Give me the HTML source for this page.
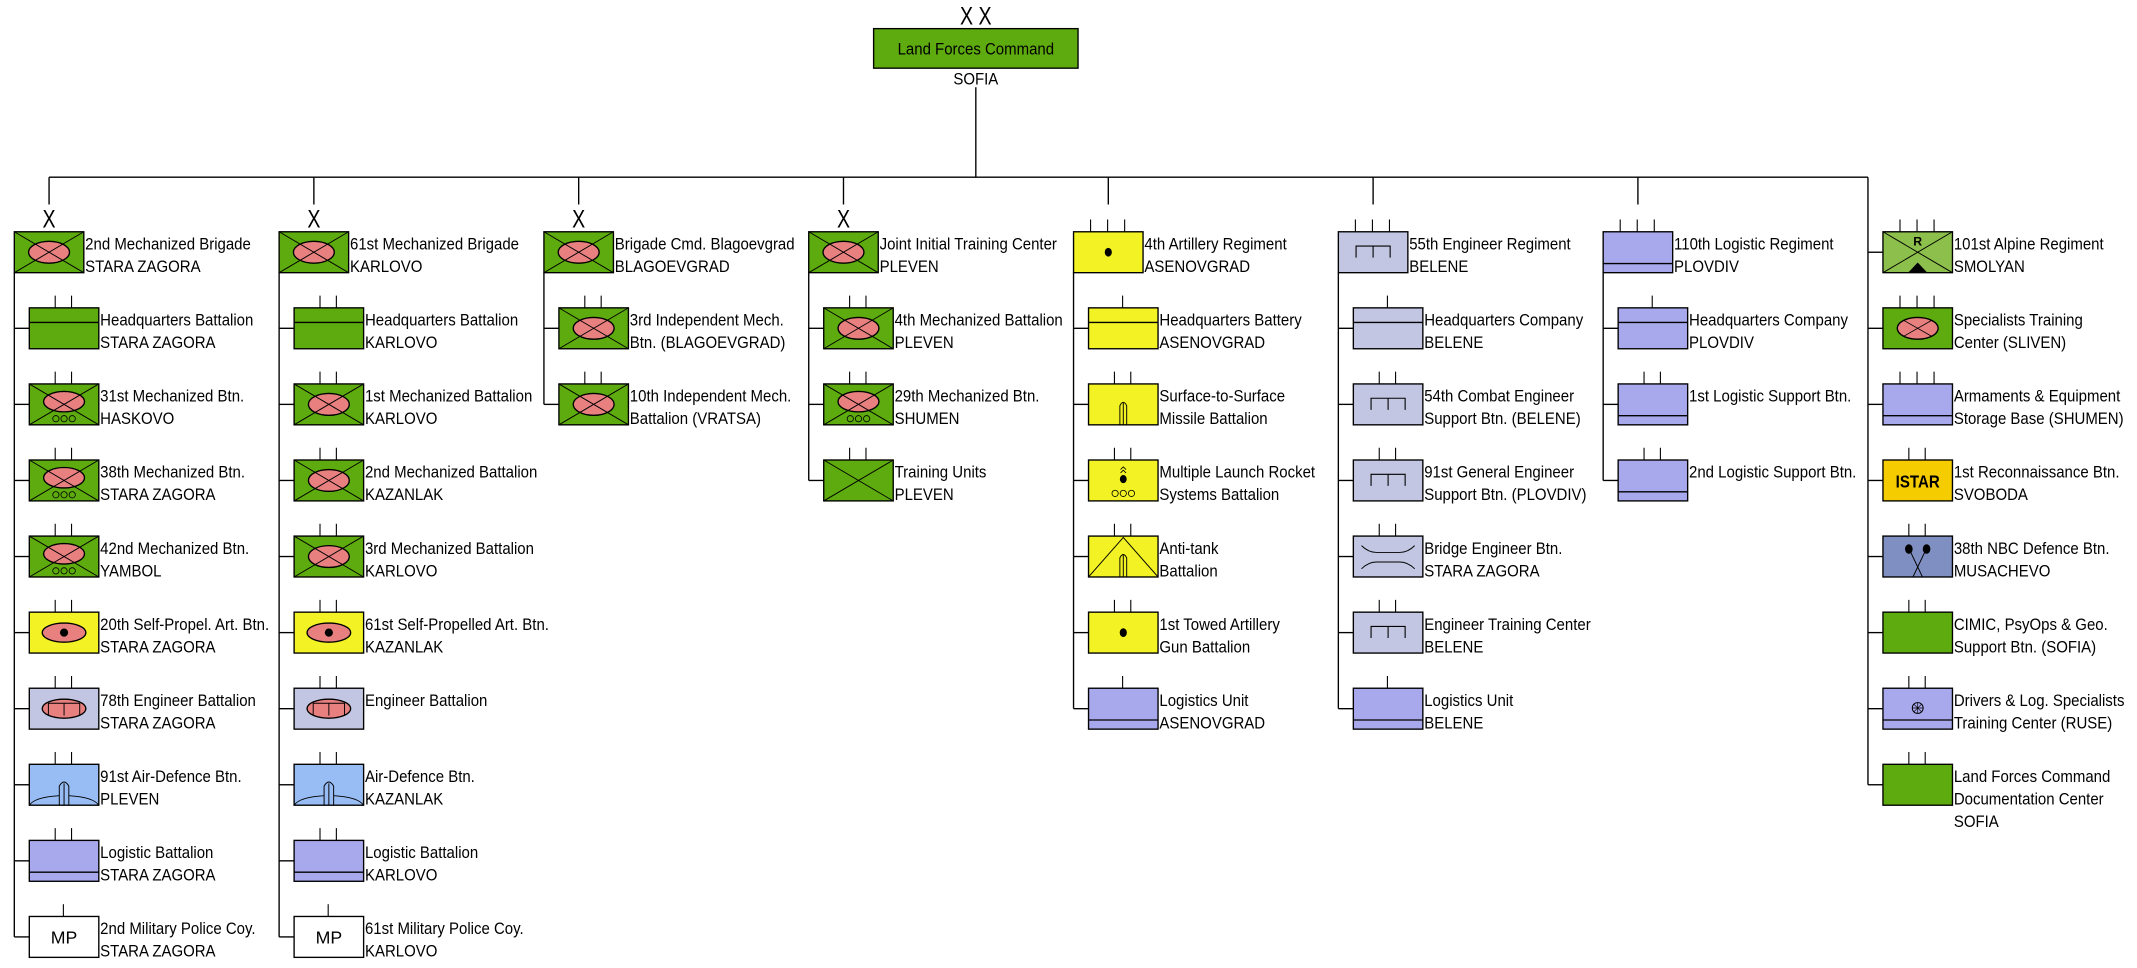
<!DOCTYPE html>
<html><head><meta charset="utf-8"><style>
html,body{margin:0;padding:0;background:#fff}
svg{display:block}
text{font-family:"Liberation Sans",Arial,sans-serif;font-size:12.5px;fill:#000}
text.xl{font-size:18px}
</style></head><body>
<svg width="2137" height="968" viewBox="0 0 1568 710" preserveAspectRatio="none" xmlns="http://www.w3.org/2000/svg">
<defs>
<g id="t1"><path d="M25,-9V0" stroke="#000" stroke-width="0.8"/></g>
<g id="t2"><path d="M19,-9V0M31,-9V0" stroke="#000" stroke-width="0.8"/></g>
<g id="t3"><path d="M12.5,-9V0M25,-9V0M37.5,-9V0" stroke="#000" stroke-width="0.8"/></g>
<g id="mech"><rect x="0" y="0" width="51" height="30" fill="#5dab0e" stroke="#000"/><ellipse cx="25.5" cy="15" rx="15" ry="8" fill="#e88080" stroke="#000"/><path d="M0,0L51,30M51,0L0,30" stroke="#000" stroke-width="0.7"/></g>
<g id="mechw"><rect x="0" y="0" width="51" height="30" fill="#5dab0e" stroke="#000"/><ellipse cx="25.5" cy="13" rx="15" ry="7.5" fill="#e88080" stroke="#000"/><path d="M0,0L51,30M51,0L0,30" stroke="#000" stroke-width="0.7"/><g fill="none" stroke="#000" stroke-width="0.6"><circle cx="19.5" cy="25.5" r="2.3"/><circle cx="25.5" cy="25.5" r="2.3"/><circle cx="31.5" cy="25.5" r="2.3"/></g></g>
<g id="trn"><rect x="0" y="0" width="51" height="30" fill="#5dab0e" stroke="#000"/><path d="M0,0L51,30M51,0L0,30" stroke="#000" stroke-width="0.7"/></g>
<g id="hq"><rect x="0" y="0" width="51" height="30" fill="#5dab0e" stroke="#000"/><path d="M0,10.7H51" stroke="#000"/></g>
<g id="green"><rect x="0" y="0" width="51" height="30" fill="#5dab0e" stroke="#000"/></g>
<g id="greenell"><rect x="0" y="0" width="51" height="30" fill="#5dab0e" stroke="#000"/><ellipse cx="25.5" cy="15" rx="15" ry="8" fill="#e88080" stroke="#000"/><path d="M15,9L36,21M36,9L15,21" stroke="#000" stroke-width="0.6"/></g>
<g id="sparty"><rect x="0" y="0" width="51" height="30" fill="#f2f224" stroke="#000"/><ellipse cx="25.5" cy="15" rx="16" ry="7" fill="#e88080" stroke="#000"/><circle cx="25.5" cy="15" r="3" fill="#000"/></g>
<g id="engbn"><rect x="0" y="0" width="51" height="30" fill="#c2c6e2" stroke="#000"/><ellipse cx="25.5" cy="15" rx="16" ry="7" fill="#e88080" stroke="#000"/><path d="M14,20V11H37V20M25.5,11V20" fill="none" stroke="#000" stroke-width="0.7"/></g>
<g id="ad"><rect x="0" y="0" width="51" height="30" fill="#98bcf4" stroke="#000"/><path d="M0,30Q4,24 22,23M29,23Q47,24 51,30" fill="none" stroke="#000" stroke-width="0.6"/><path d="M22,30V16Q25.5,10 29,16V30M25.5,14V30" fill="none" stroke="#000" stroke-width="0.7"/></g>
<g id="log"><rect x="0" y="0" width="51" height="30" fill="#a8a8ec" stroke="#000"/><path d="M0,23.3H51" stroke="#000"/></g>
<g id="loghq"><rect x="0" y="0" width="51" height="30" fill="#a8a8ec" stroke="#000"/><path d="M0,10.7H51" stroke="#000"/></g>
<g id="drivers"><rect x="0" y="0" width="51" height="30" fill="#a8a8ec" stroke="#000"/><path d="M0,23.3H51" stroke="#000"/><circle cx="25.5" cy="14.5" r="4" fill="none" stroke="#000" stroke-width="0.7"/><path d="M25.5,10.5V18.5M21.5,14.5H29.5M22.7,11.7L28.3,17.3M28.3,11.7L22.7,17.3" stroke="#000" stroke-width="0.5"/></g>
<g id="arty"><rect x="0" y="0" width="51" height="30" fill="#f2f224" stroke="#000"/><ellipse cx="25.5" cy="15" rx="2.6" ry="3.2" fill="#000"/></g>
<g id="hqy"><rect x="0" y="0" width="51" height="30" fill="#f2f224" stroke="#000"/><path d="M0,10.7H51" stroke="#000"/></g>
<g id="ssm"><rect x="0" y="0" width="51" height="30" fill="#f2f224" stroke="#000"/><path d="M23,30V16Q25.5,11 28,16V30M25.5,14V30" fill="none" stroke="#000" stroke-width="0.7"/></g>
<g id="mlrs"><rect x="0" y="0" width="51" height="30" fill="#f2f224" stroke="#000"/><path d="M23.5,7L25.5,5L27.5,7M23.5,9.5L25.5,7.5L27.5,9.5" fill="none" stroke="#000" stroke-width="0.6"/><ellipse cx="25.5" cy="14" rx="2.5" ry="3" fill="#000"/><g fill="none" stroke="#000" stroke-width="0.6"><circle cx="19.5" cy="24.5" r="2.3"/><circle cx="25.5" cy="24.5" r="2.3"/><circle cx="31.5" cy="24.5" r="2.3"/></g></g>
<g id="at"><rect x="0" y="0" width="51" height="30" fill="#f2f224" stroke="#000"/><path d="M0,30L25.5,1L51,30" fill="none" stroke="#000" stroke-width="0.7"/><path d="M23,30V16Q25.5,11 28,16V30M25.5,14V30" fill="none" stroke="#000" stroke-width="0.7"/></g>
<g id="eng"><rect x="0" y="0" width="51" height="30" fill="#c2c6e2" stroke="#000"/><path d="M13,19V10.5H38V19M25.5,10.5V19" fill="none" stroke="#000" stroke-width="0.8"/></g>
<g id="lavhq"><rect x="0" y="0" width="51" height="30" fill="#c2c6e2" stroke="#000"/><path d="M0,10.7H51" stroke="#000"/></g>
<g id="bridge"><rect x="0" y="0" width="51" height="30" fill="#c2c6e2" stroke="#000"/><path d="M6,7Q11,12 17,12H34Q40,12 45,7M6,24Q11,19 17,19H34Q40,19 45,24" fill="none" stroke="#000" stroke-width="0.7"/></g>
<g id="alpine"><rect x="0" y="0" width="51" height="30" fill="#8cbf4c" stroke="#000"/><path d="M0,0L51,30M51,0L0,30" stroke="#000" stroke-width="0.7"/><path d="M18.5,30L25.5,22.5L32.5,30Z" fill="#000"/></g>
<g id="istar"><rect x="0" y="0" width="51" height="30" fill="#f5cc00" stroke="#000"/></g>
<g id="nbc"><rect x="0" y="0" width="51" height="30" fill="#7f8fc2" stroke="#000"/><path d="M19,9L29,30M32,9L22,30" stroke="#000" stroke-width="0.7"/><ellipse cx="19" cy="9.5" rx="2.8" ry="3.5" fill="#000"/><ellipse cx="32" cy="9.5" rx="2.8" ry="3.5" fill="#000"/></g>
<g id="mp"><rect x="0" y="0" width="51" height="30" fill="#fff" stroke="#000"/></g>
</defs>

<g stroke="#000" stroke-width="1" fill="none">
<path d="M716,64V130M36,130H1370.6"/>
<path d="M36,130V150M230.3,130V150M424.6,130V150M618.9,130V150M813.2,130V150M1007.5,130V150M1201.8,130V150"/>
<path d="M10.5,200V687.2M204.8,200V687.2M399.1,200V296.6M593.4,200V352.4M787.7,200V519.8M982,200V519.8M1176.3,200V352.4M1370.6,130V575.6"/>
</g>

<!-- top -->
<text x="716" y="18" text-anchor="middle" style="font-size:18px" transform="translate(716,0) scale(.8,1) translate(-716,0)">X X</text>
<rect x="641" y="21" width="150" height="29" fill="#5dab0e" stroke="#000"/>
<text x="716" y="40" text-anchor="middle" transform="translate(716,0) scale(.88,1) translate(-716,0)">Land Forces Command</text>
<text x="716" y="62" text-anchor="middle" transform="translate(716,0) scale(.88,1) translate(-716,0)">SOFIA</text>

<!-- X labels -->
<text class="xl" text-anchor="middle" transform="translate(36,167) scale(.8,1)">X</text>
<text class="xl" text-anchor="middle" transform="translate(230.3,167) scale(.8,1)">X</text>
<text class="xl" text-anchor="middle" transform="translate(424.6,167) scale(.8,1)">X</text>
<text class="xl" text-anchor="middle" transform="translate(618.9,167) scale(.8,1)">X</text>

<!-- parents -->
<g transform="translate(10.5,170)"><use href="#mech"/><text transform="translate(52,13) scale(.88,1)"><tspan x="0">2nd Mechanized Brigade</tspan><tspan x="0" dy="16.5">STARA ZAGORA</tspan></text></g>
<g transform="translate(204.8,170)"><use href="#mech"/><text transform="translate(52,13) scale(.88,1)"><tspan x="0">61st Mechanized Brigade</tspan><tspan x="0" dy="16.5">KARLOVO</tspan></text></g>
<g transform="translate(399.1,170)"><use href="#mech"/><text transform="translate(52,13) scale(.88,1)"><tspan x="0">Brigade Cmd. Blagoevgrad</tspan><tspan x="0" dy="16.5">BLAGOEVGRAD</tspan></text></g>
<g transform="translate(593.4,170)"><use href="#mech"/><text transform="translate(52,13) scale(.88,1)"><tspan x="0">Joint Initial Training Center</tspan><tspan x="0" dy="16.5">PLEVEN</tspan></text></g>
<g transform="translate(787.7,170)"><use href="#t3"/><use href="#arty"/><text transform="translate(52,13) scale(.88,1)"><tspan x="0">4th Artillery Regiment</tspan><tspan x="0" dy="16.5">ASENOVGRAD</tspan></text></g>
<g transform="translate(982,170)"><use href="#t3"/><use href="#eng"/><text transform="translate(52,13) scale(.88,1)"><tspan x="0">55th Engineer Regiment</tspan><tspan x="0" dy="16.5">BELENE</tspan></text></g>
<g transform="translate(1176.3,170)"><use href="#t3"/><use href="#log"/><text transform="translate(52,13) scale(.88,1)"><tspan x="0">110th Logistic Regiment</tspan><tspan x="0" dy="16.5">PLOVDIV</tspan></text></g>

<!-- column 1 -->
<g transform="translate(21.5,225.8)"><path d="M-11,15H0" stroke="#000"/><use href="#t2"/><use href="#hq"/><text transform="translate(52,13) scale(.88,1)"><tspan x="0">Headquarters Battalion</tspan><tspan x="0" dy="16.5">STARA ZAGORA</tspan></text></g>
<g transform="translate(21.5,281.6)"><path d="M-11,15H0" stroke="#000"/><use href="#t2"/><use href="#mechw"/><text transform="translate(52,13) scale(.88,1)"><tspan x="0">31st Mechanized Btn.</tspan><tspan x="0" dy="16.5">HASKOVO</tspan></text></g>
<g transform="translate(21.5,337.4)"><path d="M-11,15H0" stroke="#000"/><use href="#t2"/><use href="#mechw"/><text transform="translate(52,13) scale(.88,1)"><tspan x="0">38th Mechanized Btn.</tspan><tspan x="0" dy="16.5">STARA ZAGORA</tspan></text></g>
<g transform="translate(21.5,393.2)"><path d="M-11,15H0" stroke="#000"/><use href="#t2"/><use href="#mechw"/><text transform="translate(52,13) scale(.88,1)"><tspan x="0">42nd Mechanized Btn.</tspan><tspan x="0" dy="16.5">YAMBOL</tspan></text></g>
<g transform="translate(21.5,449)"><path d="M-11,15H0" stroke="#000"/><use href="#t2"/><use href="#sparty"/><text transform="translate(52,13) scale(.88,1)"><tspan x="0">20th Self-Propel. Art. Btn.</tspan><tspan x="0" dy="16.5">STARA ZAGORA</tspan></text></g>
<g transform="translate(21.5,504.8)"><path d="M-11,15H0" stroke="#000"/><use href="#t2"/><use href="#engbn"/><text transform="translate(52,13) scale(.88,1)"><tspan x="0">78th Engineer Battalion</tspan><tspan x="0" dy="16.5">STARA ZAGORA</tspan></text></g>
<g transform="translate(21.5,560.6)"><path d="M-11,15H0" stroke="#000"/><use href="#t2"/><use href="#ad"/><text transform="translate(52,13) scale(.88,1)"><tspan x="0">91st Air-Defence Btn.</tspan><tspan x="0" dy="16.5">PLEVEN</tspan></text></g>
<g transform="translate(21.5,616.4)"><path d="M-11,15H0" stroke="#000"/><use href="#t2"/><use href="#log"/><text transform="translate(52,13) scale(.88,1)"><tspan x="0">Logistic Battalion</tspan><tspan x="0" dy="16.5">STARA ZAGORA</tspan></text></g>
<g transform="translate(21.5,672.2)"><path d="M-11,15H0" stroke="#000"/><use href="#t1"/><use href="#mp"/><text x="25.5" y="20" text-anchor="middle" style="font-size:13px">MP</text><text transform="translate(52,13) scale(.88,1)"><tspan x="0">2nd Military Police Coy.</tspan><tspan x="0" dy="16.5">STARA ZAGORA</tspan></text></g>

<!-- column 2 -->
<g transform="translate(215.8,225.8)"><path d="M-11,15H0" stroke="#000"/><use href="#t2"/><use href="#hq"/><text transform="translate(52,13) scale(.88,1)"><tspan x="0">Headquarters Battalion</tspan><tspan x="0" dy="16.5">KARLOVO</tspan></text></g>
<g transform="translate(215.8,281.6)"><path d="M-11,15H0" stroke="#000"/><use href="#t2"/><use href="#mech"/><text transform="translate(52,13) scale(.88,1)"><tspan x="0">1st Mechanized Battalion</tspan><tspan x="0" dy="16.5">KARLOVO</tspan></text></g>
<g transform="translate(215.8,337.4)"><path d="M-11,15H0" stroke="#000"/><use href="#t2"/><use href="#mech"/><text transform="translate(52,13) scale(.88,1)"><tspan x="0">2nd Mechanized Battalion</tspan><tspan x="0" dy="16.5">KAZANLAK</tspan></text></g>
<g transform="translate(215.8,393.2)"><path d="M-11,15H0" stroke="#000"/><use href="#t2"/><use href="#mech"/><text transform="translate(52,13) scale(.88,1)"><tspan x="0">3rd Mechanized Battalion</tspan><tspan x="0" dy="16.5">KARLOVO</tspan></text></g>
<g transform="translate(215.8,449)"><path d="M-11,15H0" stroke="#000"/><use href="#t2"/><use href="#sparty"/><text transform="translate(52,13) scale(.88,1)"><tspan x="0">61st Self-Propelled Art. Btn.</tspan><tspan x="0" dy="16.5">KAZANLAK</tspan></text></g>
<g transform="translate(215.8,504.8)"><path d="M-11,15H0" stroke="#000"/><use href="#t2"/><use href="#engbn"/><text transform="translate(52,13) scale(.88,1)"><tspan x="0">Engineer Battalion</tspan></text></g>
<g transform="translate(215.8,560.6)"><path d="M-11,15H0" stroke="#000"/><use href="#t2"/><use href="#ad"/><text transform="translate(52,13) scale(.88,1)"><tspan x="0">Air-Defence Btn.</tspan><tspan x="0" dy="16.5">KAZANLAK</tspan></text></g>
<g transform="translate(215.8,616.4)"><path d="M-11,15H0" stroke="#000"/><use href="#t2"/><use href="#log"/><text transform="translate(52,13) scale(.88,1)"><tspan x="0">Logistic Battalion</tspan><tspan x="0" dy="16.5">KARLOVO</tspan></text></g>
<g transform="translate(215.8,672.2)"><path d="M-11,15H0" stroke="#000"/><use href="#t1"/><use href="#mp"/><text x="25.5" y="20" text-anchor="middle" style="font-size:13px">MP</text><text transform="translate(52,13) scale(.88,1)"><tspan x="0">61st Military Police Coy.</tspan><tspan x="0" dy="16.5">KARLOVO</tspan></text></g>

<!-- column 3 -->
<g transform="translate(410.1,225.8)"><path d="M-11,15H0" stroke="#000"/><use href="#t2"/><use href="#mech"/><text transform="translate(52,13) scale(.88,1)"><tspan x="0">3rd Independent Mech.</tspan><tspan x="0" dy="16.5">Btn. (BLAGOEVGRAD)</tspan></text></g>
<g transform="translate(410.1,281.6)"><path d="M-11,15H0" stroke="#000"/><use href="#t2"/><use href="#mech"/><text transform="translate(52,13) scale(.88,1)"><tspan x="0">10th Independent Mech.</tspan><tspan x="0" dy="16.5">Battalion (VRATSA)</tspan></text></g>

<!-- column 4 -->
<g transform="translate(604.4,225.8)"><path d="M-11,15H0" stroke="#000"/><use href="#t2"/><use href="#mech"/><text transform="translate(52,13) scale(.88,1)"><tspan x="0">4th Mechanized Battalion</tspan><tspan x="0" dy="16.5">PLEVEN</tspan></text></g>
<g transform="translate(604.4,281.6)"><path d="M-11,15H0" stroke="#000"/><use href="#t2"/><use href="#mechw"/><text transform="translate(52,13) scale(.88,1)"><tspan x="0">29th Mechanized Btn.</tspan><tspan x="0" dy="16.5">SHUMEN</tspan></text></g>
<g transform="translate(604.4,337.4)"><path d="M-11,15H0" stroke="#000"/><use href="#t2"/><use href="#trn"/><text transform="translate(52,13) scale(.88,1)"><tspan x="0">Training Units</tspan><tspan x="0" dy="16.5">PLEVEN</tspan></text></g>

<!-- column 5 -->
<g transform="translate(798.7,225.8)"><path d="M-11,15H0" stroke="#000"/><use href="#t1"/><use href="#hqy"/><text transform="translate(52,13) scale(.88,1)"><tspan x="0">Headquarters Battery</tspan><tspan x="0" dy="16.5">ASENOVGRAD</tspan></text></g>
<g transform="translate(798.7,281.6)"><path d="M-11,15H0" stroke="#000"/><use href="#t2"/><use href="#ssm"/><text transform="translate(52,13) scale(.88,1)"><tspan x="0">Surface-to-Surface</tspan><tspan x="0" dy="16.5">Missile Battalion</tspan></text></g>
<g transform="translate(798.7,337.4)"><path d="M-11,15H0" stroke="#000"/><use href="#t2"/><use href="#mlrs"/><text transform="translate(52,13) scale(.88,1)"><tspan x="0">Multiple Launch Rocket</tspan><tspan x="0" dy="16.5">Systems Battalion</tspan></text></g>
<g transform="translate(798.7,393.2)"><path d="M-11,15H0" stroke="#000"/><use href="#t2"/><use href="#at"/><text transform="translate(52,13) scale(.88,1)"><tspan x="0">Anti-tank</tspan><tspan x="0" dy="16.5">Battalion</tspan></text></g>
<g transform="translate(798.7,449)"><path d="M-11,15H0" stroke="#000"/><use href="#t2"/><use href="#arty"/><text transform="translate(52,13) scale(.88,1)"><tspan x="0">1st Towed Artillery</tspan><tspan x="0" dy="16.5">Gun Battalion</tspan></text></g>
<g transform="translate(798.7,504.8)"><path d="M-11,15H0" stroke="#000"/><use href="#t1"/><use href="#log"/><text transform="translate(52,13) scale(.88,1)"><tspan x="0">Logistics Unit</tspan><tspan x="0" dy="16.5">ASENOVGRAD</tspan></text></g>

<!-- column 6 -->
<g transform="translate(993,225.8)"><path d="M-11,15H0" stroke="#000"/><use href="#t1"/><use href="#lavhq"/><text transform="translate(52,13) scale(.88,1)"><tspan x="0">Headquarters Company</tspan><tspan x="0" dy="16.5">BELENE</tspan></text></g>
<g transform="translate(993,281.6)"><path d="M-11,15H0" stroke="#000"/><use href="#t2"/><use href="#eng"/><text transform="translate(52,13) scale(.88,1)"><tspan x="0">54th Combat Engineer</tspan><tspan x="0" dy="16.5">Support Btn. (BELENE)</tspan></text></g>
<g transform="translate(993,337.4)"><path d="M-11,15H0" stroke="#000"/><use href="#t2"/><use href="#eng"/><text transform="translate(52,13) scale(.88,1)"><tspan x="0">91st General Engineer</tspan><tspan x="0" dy="16.5">Support Btn. (PLOVDIV)</tspan></text></g>
<g transform="translate(993,393.2)"><path d="M-11,15H0" stroke="#000"/><use href="#t2"/><use href="#bridge"/><text transform="translate(52,13) scale(.88,1)"><tspan x="0">Bridge Engineer Btn.</tspan><tspan x="0" dy="16.5">STARA ZAGORA</tspan></text></g>
<g transform="translate(993,449)"><path d="M-11,15H0" stroke="#000"/><use href="#t2"/><use href="#eng"/><text transform="translate(52,13) scale(.88,1)"><tspan x="0">Engineer Training Center</tspan><tspan x="0" dy="16.5">BELENE</tspan></text></g>
<g transform="translate(993,504.8)"><path d="M-11,15H0" stroke="#000"/><use href="#t1"/><use href="#log"/><text transform="translate(52,13) scale(.88,1)"><tspan x="0">Logistics Unit</tspan><tspan x="0" dy="16.5">BELENE</tspan></text></g>

<!-- column 7 -->
<g transform="translate(1187.3,225.8)"><path d="M-11,15H0" stroke="#000"/><use href="#t1"/><use href="#loghq"/><text transform="translate(52,13) scale(.88,1)"><tspan x="0">Headquarters Company</tspan><tspan x="0" dy="16.5">PLOVDIV</tspan></text></g>
<g transform="translate(1187.3,281.6)"><path d="M-11,15H0" stroke="#000"/><use href="#t2"/><use href="#log"/><text transform="translate(52,13) scale(.88,1)"><tspan x="0">1st Logistic Support Btn.</tspan></text></g>
<g transform="translate(1187.3,337.4)"><path d="M-11,15H0" stroke="#000"/><use href="#t2"/><use href="#log"/><text transform="translate(52,13) scale(.88,1)"><tspan x="0">2nd Logistic Support Btn.</tspan></text></g>

<!-- column 8 -->
<g transform="translate(1381.6,170)"><path d="M-11,15H0" stroke="#000"/><use href="#t3"/><use href="#alpine"/><text x="25.5" y="10" text-anchor="middle" style="font-size:9px;font-weight:bold">R</text><text transform="translate(52,13) scale(.88,1)"><tspan x="0">101st Alpine Regiment</tspan><tspan x="0" dy="16.5">SMOLYAN</tspan></text></g>
<g transform="translate(1381.6,225.8)"><path d="M-11,15H0" stroke="#000"/><use href="#t3"/><use href="#greenell"/><text transform="translate(52,13) scale(.88,1)"><tspan x="0">Specialists Training</tspan><tspan x="0" dy="16.5">Center (SLIVEN)</tspan></text></g>
<g transform="translate(1381.6,281.6)"><path d="M-11,15H0" stroke="#000"/><use href="#t3"/><use href="#log"/><text transform="translate(52,13) scale(.88,1)"><tspan x="0">Armaments &amp; Equipment</tspan><tspan x="0" dy="16.5">Storage Base (SHUMEN)</tspan></text></g>
<g transform="translate(1381.6,337.4)"><path d="M-11,15H0" stroke="#000"/><use href="#t2"/><use href="#istar"/><text x="25.5" y="20" text-anchor="middle" style="font-size:13px;font-weight:bold" transform="translate(25.5,0) scale(.85,1) translate(-25.5,0)">ISTAR</text><text transform="translate(52,13) scale(.88,1)"><tspan x="0">1st Reconnaissance Btn.</tspan><tspan x="0" dy="16.5">SVOBODA</tspan></text></g>
<g transform="translate(1381.6,393.2)"><path d="M-11,15H0" stroke="#000"/><use href="#t2"/><use href="#nbc"/><text transform="translate(52,13) scale(.88,1)"><tspan x="0">38th NBC Defence Btn.</tspan><tspan x="0" dy="16.5">MUSACHEVO</tspan></text></g>
<g transform="translate(1381.6,449)"><path d="M-11,15H0" stroke="#000"/><use href="#t2"/><use href="#green"/><text transform="translate(52,13) scale(.88,1)"><tspan x="0">CIMIC, PsyOps &amp; Geo.</tspan><tspan x="0" dy="16.5">Support Btn. (SOFIA)</tspan></text></g>
<g transform="translate(1381.6,504.8)"><path d="M-11,15H0" stroke="#000"/><use href="#t2"/><use href="#drivers"/><text transform="translate(52,13) scale(.88,1)"><tspan x="0">Drivers &amp; Log. Specialists</tspan><tspan x="0" dy="16.5">Training Center (RUSE)</tspan></text></g>
<g transform="translate(1381.6,560.6)"><path d="M-11,15H0" stroke="#000"/><use href="#t2"/><use href="#green"/><text transform="translate(52,13) scale(.88,1)"><tspan x="0">Land Forces Command</tspan><tspan x="0" dy="16.5">Documentation Center</tspan><tspan x="0" dy="16.5">SOFIA</tspan></text></g>
</svg>
</body></html>
